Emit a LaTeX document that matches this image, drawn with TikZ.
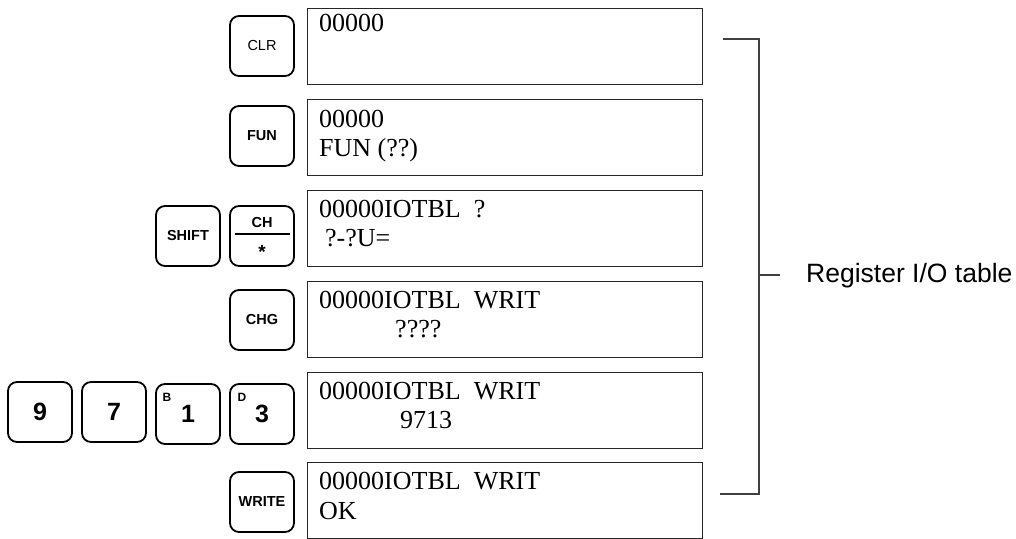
\documentclass[tikz,border=0pt]{standalone}
\usepackage{fontspec}
\setmainfont{Liberation Serif}
\setsansfont{Liberation Sans}
\begin{document}
\begin{tikzpicture}[x=1pt,y=-1pt,
  disp/.style={draw=black!85,line width=1.2pt,minimum width=395pt,minimum height=76pt,inner sep=0pt,anchor=north west},
  keybox/.style={draw,line width=1.8pt,rounded corners=9pt,minimum width=64pt,minimum height=60pt,inner sep=0pt,font=\sffamily\bfseries\fontsize{14.5}{14.5}\selectfont},
  digit/.style={font=\sffamily\bfseries\fontsize{25}{25}\selectfont},
  small/.style={inner sep=0pt,font=\sffamily\bfseries\fontsize{12}{12}\selectfont},
  txt/.style={anchor=base west,inner sep=0pt,font=\fontsize{26}{26}\selectfont},
  brline/.style={draw=black!75,line width=1.1pt}]
\useasboundingbox (0,0) rectangle (1016,538);
% display boxes
\node[disp] (d1) at (307,8) {};
\node[disp] (d2) at (307,99) {};
\node[disp] (d3) at (307,190) {};
\node[disp] (d4) at (307,281) {};
\node[disp] (d5) at (307,372) {};
\node[disp] (d6) at (307,461.5) {};
% display texts
\node[txt] (t1a) at (319,31) {00000};
\node[txt] (t2a) at (319,127) {00000};
\node[txt] (t2b) at (319,156) {FUN (??)};
\node[txt] (t3a) at (319,217) {00000IOTBL\ \ ?};
\node[txt] (t3b) at (325,246) {?-?U=};
\node[txt] (t4a) at (319,308) {00000IOTBL\ \ WRIT};
\node[txt] (t4b) at (395,337) {????};
\node[txt] (t5a) at (319,399) {00000IOTBL\ \ WRIT};
\node[txt] (t5b) at (400,428) {9713};
\node[txt] (t6a) at (319,489) {00000IOTBL\ \ WRIT};
\node[txt] (t6b) at (319,519) {OK};
% keys
\node[keybox] (clr) at (262,46) {\mdseries CLR};
\node[keybox] (fun) at (262,136) {FUN};
\node[keybox] (shift) at (188,236) {SHIFT};
\node[keybox] (ch) at (262,236) {};
\node[keybox,draw=none] (chtop) at (262,223) {CH};
\coordinate (chl) at (235,234);
\coordinate (chr) at (290,234);
\draw[line width=1.4pt] (chl) -- (chr);
\node[keybox,draw=none,font=\sffamily\bfseries\fontsize{19}{19}\selectfont] (star) at (262,252) {*};
\node[keybox] (chg) at (262,320) {CHG};
\node[keybox,digit] (k9) at (40,412) {9};
\node[keybox,digit] (k7) at (114,412) {7};
\node[keybox,digit] (k1) at (188,414) {1};
\node[keybox,digit] (k3) at (262,414) {3};
\node[small] (lb) at (167,397) {B};
\node[small] (ld) at (242,397) {D};
\node[keybox] (write) at (262,502) {WRITE};
% bracket
\coordinate (br1) at (723,39);
\coordinate (br2) at (759,39);
\coordinate (br3) at (759,494);
\coordinate (br4) at (720,494);
\coordinate (tk1) at (759,275);
\coordinate (tk2) at (780,275);
\draw[brline] (br1) -- (br2) -- (br3) -- (br4);
\draw[brline] (tk1) -- (tk2);
\node[anchor=west,inner sep=0pt,font=\sffamily\fontsize{26.5}{26.5}\selectfont] (reg) at (806,276) {Register I/O table};
\end{tikzpicture}
\end{document}
